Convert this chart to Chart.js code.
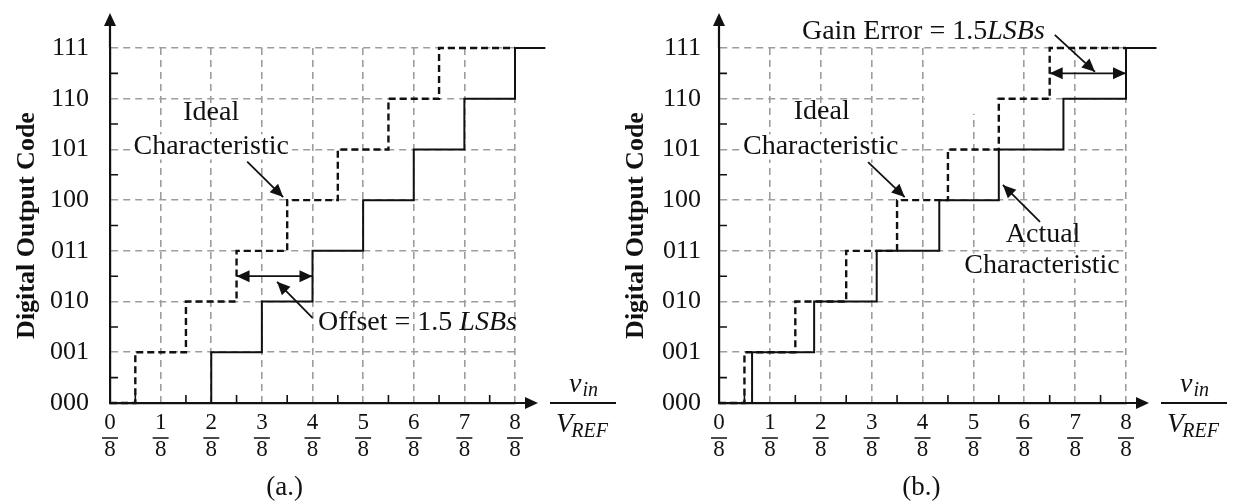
<!DOCTYPE html>
<html>
<head>
<meta charset="utf-8">
<script src="https://cdn.jsdelivr.net/npm/chart.js@4.4.1/dist/chart.umd.min.js"></script>
<style>
  html, body { margin: 0; padding: 0; background: #fff; }
  #wrap { position: relative; width: 1235px; height: 504px; overflow: hidden; }
  canvas { position: absolute; top: 0; }
  #chartA { left: 0; }
  #chartB { left: 617px; }
</style>
</head>
<body>
<div id="wrap">
  <canvas id="chartA" width="617" height="504"></canvas>
  <canvas id="chartB" width="618" height="504"></canvas>
</div>
<script>
// y axis: 3-bit output codes
const codeLabels = ['000', '001', '010', '011', '100', '101', '110', '111'];
// x axis: numerators of k/8 (of V_REF)
const fracNums = ['0', '1', '2', '3', '4', '5', '6', '7', '8'];
// input value (in 1/8 V_REF) where each code 001..111 begins
const idealSteps = [0.5, 1.5, 2.5, 3.5, 4.5, 5.5, 6.5];
const offsetSteps = [2, 3, 4, 5, 6, 7, 8];
const gainSteps = [0.65, 1.87, 3.1, 4.33, 5.5, 6.77, 8];
const idealEnd = 8;     // dashed ideal stops at full scale
const actualEnd = 8.6;  // solid actual runs a little past it
const fullScale = 8;

const SERIF = '"Liberation Serif", "Times New Roman", serif';
const INK = '#111';
const GRID = '#9d9d9d';
const NOTE = 28;

// turn code transition points into stair points
function stairs(steps, end) {
  const pts = [{ x: 0, y: 0 }];
  steps.forEach((s, i) => pts.push({ x: s, y: i + 1 }));
  pts.push({ x: end, y: steps.length });
  return pts;
}

function head(ctx, x1, y1, x2, y2, len, half) {
  const a = Math.atan2(y2 - y1, x2 - x1);
  ctx.beginPath();
  ctx.moveTo(x2, y2);
  ctx.lineTo(x2 - len * Math.cos(a) + half * Math.sin(a), y2 - len * Math.sin(a) - half * Math.cos(a));
  ctx.lineTo(x2 - len * Math.cos(a) - half * Math.sin(a), y2 - len * Math.sin(a) + half * Math.cos(a));
  ctx.closePath();
  ctx.fill();
}

function arrow(ctx, x1, y1, x2, y2, both) {
  ctx.strokeStyle = INK;
  ctx.fillStyle = INK;
  ctx.lineWidth = 1.8;
  ctx.setLineDash([]);
  ctx.beginPath();
  ctx.moveTo(x1, y1);
  ctx.lineTo(x2, y2);
  ctx.stroke();
  head(ctx, x1, y1, x2, y2, 13, 6);
  if (both) head(ctx, x2, y2, x1, y1, 13, 6);
}

// parts: [[text, italic], ...]
function label(ctx, parts, x, y, align, bg) {
  const size = NOTE;
  const fontOf = p => (p[1] ? 'italic ' : '') + size + 'px ' + SERIF;
  let w = 0;
  parts.forEach(p => { ctx.font = fontOf(p); w += ctx.measureText(p[0]).width; });
  let sx = align === 'center' ? x - w / 2 : x;
  if (bg) {
    ctx.fillStyle = '#fff';
    ctx.fillRect(sx - 3, y - size * 0.45, w + 6, size * 0.9);
  }
  ctx.fillStyle = INK;
  ctx.textBaseline = 'middle';
  ctx.textAlign = 'left';
  parts.forEach(p => {
    ctx.font = fontOf(p);
    ctx.fillText(p[0], sx, y);
    sx += ctx.measureText(p[0]).width;
  });
}

// axes arrows, minor ticks, fraction bars, v_in/V_REF, caption
function frame(chart, caption, capX) {
  const ctx = chart.ctx;
  const { left, right, top, bottom } = chart.chartArea;
  const xs = chart.scales.x, ys = chart.scales.y;
  ctx.save();
  ctx.strokeStyle = INK;
  ctx.fillStyle = INK;
  ctx.setLineDash([]);
  ctx.lineWidth = 2.2;
  ctx.beginPath();
  ctx.moveTo(left, top);
  ctx.lineTo(left, top - 28);
  ctx.moveTo(right, bottom);
  ctx.lineTo(right + 12, bottom);
  ctx.stroke();
  head(ctx, left, top, left, top - 35, 13, 6);
  head(ctx, right, bottom, right + 23, bottom, 13, 6);

  ctx.lineWidth = 1.6;
  ctx.beginPath();
  for (let v = 0.5; v < 8; v += 1) {
    ctx.moveTo(xs.getPixelForValue(v), bottom);
    ctx.lineTo(xs.getPixelForValue(v), bottom - 8);
  }
  for (let v = 0.5; v < 7; v += 1) {
    ctx.moveTo(left, ys.getPixelForValue(v));
    ctx.lineTo(left + 8, ys.getPixelForValue(v));
  }
  // fraction bars under tick numerators
  fracNums.forEach((n, i) => {
    const x = xs.getPixelForValue(i);
    ctx.moveTo(x - 8, bottom + 35);
    ctx.lineTo(x + 8, bottom + 35);
  });
  ctx.stroke();

  // v_in / V_REF
  const cx = right + 68;
  ctx.lineWidth = 1.8;
  ctx.beginPath();
  ctx.moveTo(cx - 33, bottom);
  ctx.lineTo(cx + 33, bottom);
  ctx.stroke();
  ctx.textBaseline = 'alphabetic';
  ctx.textAlign = 'left';
  ctx.font = 'italic 28px ' + SERIF;
  const wv = ctx.measureText('v').width;
  ctx.font = 'italic 20px ' + SERIF;
  const wi = ctx.measureText('in').width;
  let sx = cx - (wv + wi) / 2;
  ctx.font = 'italic 28px ' + SERIF;
  ctx.fillText('v', sx, bottom - 11);
  ctx.font = 'italic 20px ' + SERIF;
  ctx.fillText('in', sx + wv + 1, bottom - 7);
  ctx.font = 'italic 28px ' + SERIF;
  const wV = ctx.measureText('V').width;
  ctx.font = 'italic 20px ' + SERIF;
  const wR = ctx.measureText('REF').width;
  sx = cx - (wV + wR) / 2;
  ctx.font = 'italic 28px ' + SERIF;
  ctx.fillText('V', sx, bottom + 29);
  ctx.font = 'italic 20px ' + SERIF;
  ctx.fillText('REF', sx + wV - 2, bottom + 34);

  ctx.font = '27px ' + SERIF;
  ctx.textAlign = 'center';
  ctx.textBaseline = 'middle';
  ctx.fillText(caption, xs.getPixelForValue(capX), bottom + 85);
  ctx.restore();
}

function baseOptions(padRight, axisWidth, tickPad, titlePad) {
  const gridOpts = { color: GRID, lineWidth: 1.6, drawTicks: false };
  const borderOpts = { display: true, color: INK, width: 2.2, dash: [7, 5] };
  return {
    responsive: false,
    animation: false,
    events: [],
    layout: { padding: { left: 0, right: padRight, top: 48, bottom: 0 } },
    plugins: { legend: { display: false }, tooltip: { enabled: false } },
    scales: {
      x: {
        type: 'linear', min: 0,
        // axis stops at full scale; the actual line's tail is drawn past it
        afterDataLimits: s => { s.max = fullScale; },
        ticks: {
          stepSize: 1, autoSkip: false, maxRotation: 0, color: INK, padding: 7,
          font: { family: SERIF, size: 23, lineHeight: 1.15 },
          callback: v => [fracNums[v], '8']
        },
        grid: gridOpts, border: borderOpts,
        afterFit: s => { s.height = 101; }
      },
      y: {
        type: 'linear', min: 0, max: 7,
        ticks: {
          stepSize: 1, color: INK, padding: tickPad,
          font: { family: SERIF, size: 26 },
          callback: v => codeLabels[v]
        },
        grid: gridOpts, border: borderOpts,
        title: {
          display: true, text: 'Digital Output Code', color: INK,
          font: { family: SERIF, size: 26, weight: 'bold', lineHeight: 1.2 },
          padding: { top: titlePad, bottom: 0 }
        },
        afterFit: s => { s.width = axisWidth; }
      }
    }
  };
}

function datasets(actualSteps) {
  return [
    {
      label: 'Actual', data: stairs(actualSteps, actualEnd), stepped: 'before',
      borderColor: INK, borderWidth: 2, pointRadius: 0, fill: false, clip: false
    },
    {
      label: 'Ideal', data: stairs(idealSteps, idealEnd), stepped: 'before',
      borderColor: INK, borderWidth: 2.4, borderDash: [7, 4], pointRadius: 0, fill: false, clip: false
    }
  ];
}

// (a.) offset error
new Chart(document.getElementById('chartA'), {
  type: 'line',
  data: { datasets: datasets(offsetSteps) },
  options: baseOptions(102, 110, 21, 12),
  plugins: [{
    id: 'notesA',
    afterDraw(chart) {
      const ctx = chart.ctx;
      const X = v => chart.scales.x.getPixelForValue(v);
      const Y = v => chart.scales.y.getPixelForValue(v);
      ctx.save();
      label(ctx, [['Ideal', false]], X(2.0), Y(5.72), 'center', false);
      label(ctx, [['Characteristic', false]], X(2.0), Y(5.05), 'center', true);
      arrow(ctx, X(2.71), Y(4.76), X(3.42), Y(4.06), false);
      arrow(ctx, X(2.5), Y(2.5), X(4), Y(2.5), true);
      label(ctx, [['Offset = 1.5 ', false], ['LSBs', true]], X(4.11), Y(1.58), 'left', false);
      arrow(ctx, X(4.0), Y(1.68), X(3.3), Y(2.39), false);
      ctx.restore();
      frame(chart, '(a.)', 3.45);
    }
  }]
});

// (b.) gain error
new Chart(document.getElementById('chartB'), {
  type: 'line',
  data: { datasets: datasets(gainSteps) },
  options: baseOptions(109, 102, 18, 4),
  plugins: [{
    id: 'notesB',
    beforeDatasetsDraw(chart) {
      // blank patch behind the gain-error callout, as in the source figure
      const ctx = chart.ctx;
      const X = v => chart.scales.x.getPixelForValue(v);
      const Y = v => chart.scales.y.getPixelForValue(v);
      ctx.save();
      ctx.fillStyle = '#fff';
      ctx.fillRect(X(4.05), Y(6.97), X(5.45) - X(4.05), Y(5.7) - Y(6.97));
      ctx.restore();
    },
    afterDraw(chart) {
      const ctx = chart.ctx;
      const X = v => chart.scales.x.getPixelForValue(v);
      const Y = v => chart.scales.y.getPixelForValue(v);
      ctx.save();
      label(ctx, [['Gain Error = 1.5', false], ['LSBs', true]], X(1.63), Y(7.32), 'left', false);
      arrow(ctx, X(6.6), Y(7.26), X(7.39), Y(6.53), false);
      arrow(ctx, X(6.5), Y(6.5), X(8), Y(6.5), true);
      label(ctx, [['Ideal', false]], X(2.02), Y(5.74), 'center', false);
      label(ctx, [['Characteristic', false]], X(2.0), Y(5.05), 'center', true);
      arrow(ctx, X(2.93), Y(4.75), X(3.65), Y(4.06), false);
      label(ctx, [['Actual', false]], X(6.37), Y(3.31), 'center', false);
      label(ctx, [['Characteristic', false]], X(6.35), Y(2.70), 'center', true);
      arrow(ctx, X(6.31), Y(3.57), X(5.58), Y(4.30), false);
      ctx.restore();
      frame(chart, '(b.)', 3.98);
    }
  }]
});
</script>
</body>
</html>
